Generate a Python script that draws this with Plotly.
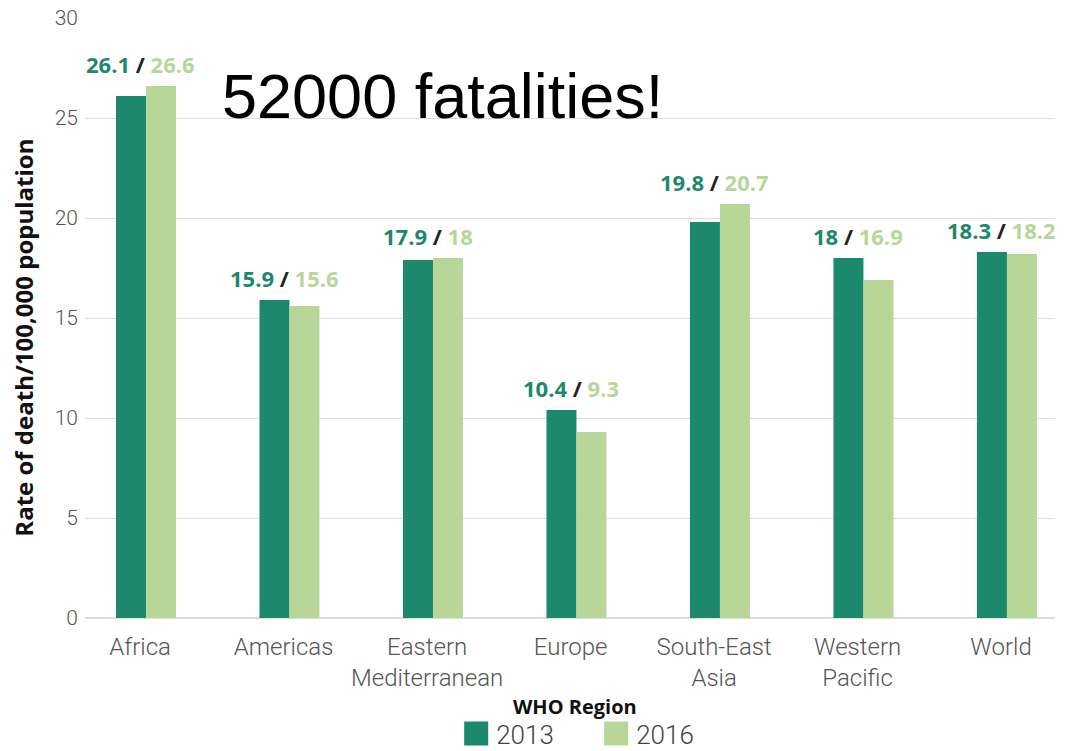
import plotly.graph_objects as go

regions = ["Africa", "Americas", "Eastern<br>Mediterranean", "Europe",
           "South-East<br>Asia", "Western<br>Pacific", "World"]
rate_2013 = [26.1, 15.9, 17.9, 10.4, 19.8, 18.0, 18.3]
rate_2016 = [26.6, 15.6, 18.0, 9.3, 20.7, 16.9, 18.2]
y_ticks = [0, 5, 10, 15, 20, 25, 30]

C13 = "#1c886c"
C16 = "#b7d697"

PAD = "\u00a0\u00a0"
tick_text = ["<br>".join(line + PAD for line in r.split("<br>")) for r in regions]

fig = go.Figure()
fig.add_trace(go.Bar(name="2013", x=regions, y=rate_2013, marker_color=C13,
                     marker_line_width=0))
fig.add_trace(go.Bar(name="2016", x=regions, y=rate_2016, marker_color=C16,
                     marker_line_width=0))

for r, a, b in zip(regions, rate_2013, rate_2016):
    fig.add_annotation(
        x=r, y=max(a, b), xref="x", yref="y", yanchor="bottom", yshift=5, xshift=-5,
        showarrow=False,
        text=f"<span style='color:{C13}'>{a:g}</span> / <span style='color:{C16}'>{b:g}</span>",
        font=dict(family="Open Sans", size=22, weight="bold", color="#222"),
    )

fig.add_annotation(
    text="52000 fatalities!", xref="paper", yref="paper",
    x=0.139, y=0.87, xanchor="left", yanchor="middle", showarrow=False,
    font=dict(family="Liberation Sans", size=63, color="#000"),
)

fig.add_annotation(
    text="WHO Region", xref="paper", yref="paper",
    x=0.505, y=-0.148, xanchor="center", yanchor="middle", showarrow=False,
    font=dict(family="Open Sans", size=20, weight="bold", color="#111"),
)

fig.add_annotation(
    text="Rate of death/100,000 population", xref="paper", yref="paper",
    x=-0.063, y=0.467, xanchor="center", yanchor="middle", showarrow=False,
    textangle=-90,
    font=dict(family="Open Sans", size=24, weight="bold", color="#111"),
)

fig.update_layout(
    width=1070, height=751,
    margin=dict(l=85, r=15, t=18, b=133),
    paper_bgcolor="white", plot_bgcolor="white",
    barmode="group", bargap=0.582, bargroupgap=0,
    showlegend=True,
    legend=dict(orientation="h", x=0.527, xanchor="center",
                yref="container", y=0, yanchor="bottom",
                font=dict(family="Roboto", size=26, weight=300, color="#444"),
                itemwidth=30, entrywidth=95, traceorder="normal"),
    font=dict(family="Roboto"),
)
fig.update_xaxes(
    range=[-0.425, 6.335], automargin=False,
    tickvals=regions, ticktext=tick_text,
    tickfont=dict(family="Roboto", size=24, weight=300, color="#555"),
    showline=False, ticks="", ticklabelstandoff=12,
)
fig.update_yaxes(
    range=[0, 30], tickvals=y_ticks, automargin=False,
    tickfont=dict(family="Roboto", size=21, weight=300, color="#555"),
    gridcolor="#dddddd", gridwidth=1, zeroline=True, zerolinecolor="#dddddd",
    ticks="", ticklabelstandoff=6,
)

post = (
    "document.body.style.margin='0px';"
    "document.querySelectorAll('.legendpoints path').forEach(function(p){"
    "p.setAttribute('d','M12,12H-12V-12H12Z');});"
    "var lg=document.querySelector('g.legend');"
    "if(lg){lg.setAttribute('transform',(lg.getAttribute('transform')||'')+' translate(0,6)');}"
)
fig.write_html("out.html", config={"displayModeBar": False}, post_script=post)
